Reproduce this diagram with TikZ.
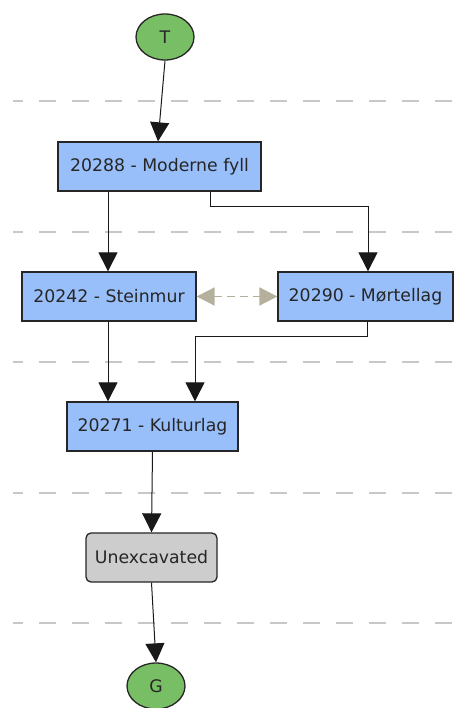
\documentclass[tikz,border=0pt]{standalone}
\usepackage{fontspec}
\setmainfont{DejaVu Sans}
\usetikzlibrary{arrows.meta,shapes.geometric}
\definecolor{boxblue}{HTML}{99BFFA}
\definecolor{termgreen}{HTML}{78BE64}
\definecolor{uxgray}{HTML}{CDCDCD}
\definecolor{sepgray}{HTML}{C8C8C8}
\definecolor{tan}{HTML}{B4B09C}
\begin{document}
\begin{tikzpicture}[x=1pt,y=-1pt,
  lbl/.style={font=\fontsize{17.3}{20}\selectfont,text=black!85},
  ctx/.style={lbl,draw=black!85,line width=1.3pt,fill=boxblue,minimum height=49pt,inner sep=0pt},
  term/.style={lbl,ellipse,draw=black!85,line width=1.3pt,fill=termgreen,minimum width=58pt,minimum height=46pt,inner sep=0pt},
  ux/.style={lbl,draw=black!85,line width=1.3pt,fill=uxgray,rounded corners=5pt,minimum height=49pt,inner sep=0pt},
  sep/.style={sepgray,line width=1.5pt,dash pattern=on 17pt off 16pt,dash phase=7pt},
  flow/.style={black!90,line width=1pt,-{Triangle[width=19pt,length=19pt]}},
  eq/.style={tan,line width=1.8pt,dash pattern=on 8pt off 5pt,{Triangle[width=18pt,length=18pt]}-{Triangle[width=18pt,length=18pt]}}
]
\useasboundingbox (0,0) rectangle (462,708);
\foreach \yy in {101,232,362,493,623} \draw[sep] (13,\yy) -- (455,\yy);
\node[term] (T) at (165,37) {T};
\node[ctx,minimum width=203pt] (a) at (159.5,166.5) {20288 - Moderne fyll};
\node[ctx,minimum width=174pt] (b) at (109,296.5) {20242 - Steinmur};
\node[ctx,minimum width=175pt] (c) at (365.5,296.5) {20290 - Mørtellag};
\node[ctx,minimum width=171pt] (d) at (152.5,426.5) {20271 - Kulturlag};
\node[ux,minimum width=131pt] (u) at (151.5,557.5) {Unexcavated};
\node[term] (G) at (156,686) {G};
\draw[flow] (T.south) -- (a.north -| 158,0);
\draw[flow] (a.south -| 108,0) -- (b.north -| 108,0);
\coordinate (a1) at (a.south -| 210,0);
\coordinate (c1) at (c.north -| 368,0);
\draw[flow] (a1) |- (368,207) -- (c1);
\draw[flow] (b.south -| 108,0) -- (d.north -| 108,0);
\coordinate (c2) at (c.south -| 367,0);
\coordinate (d1) at (d.north -| 195,0);
\draw[flow] (c2) |- (195,336) -- (d1);
\draw[flow] (d.south) -- (u.north);
\draw[flow] (u.south) -- (G.north);
\draw[eq] (b.east) -- (c.west);
\end{tikzpicture}
\end{document}
